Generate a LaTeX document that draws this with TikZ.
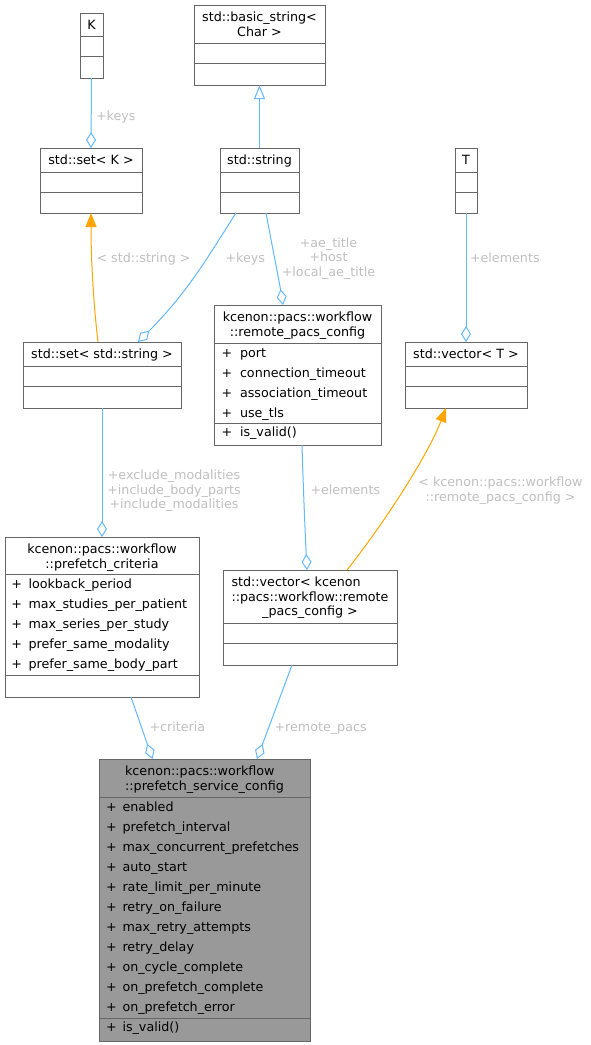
\documentclass[tikz,border=0pt]{standalone}
\usepackage{fontspec}
\setmainfont{DejaVu Sans}
\usetikzlibrary{arrows.meta,fit}
\definecolor{edgeblue}{HTML}{63B8FF}
\definecolor{edgeorange}{HTML}{FFA500}
\definecolor{boxline}{HTML}{666666}
\definecolor{lblgray}{HTML}{C0C0C0}
\definecolor{mainfill}{HTML}{999999}
\newcommand\dfont{\fontsize{12.7pt}{14.5pt}\selectfont}
\begin{document}
\begin{tikzpicture}[x=1pt,y=-1pt,
 cls/.style={draw=boxline, line width=1pt, inner sep=0pt, outer sep=0pt},
 divl/.style={draw=boxline, line width=1pt},
 txt/.style={inner sep=0pt, outer sep=0pt, font=\dfont, text=black},
 lbl/.style={inner sep=0pt, outer sep=0pt, font=\dfont, text=lblgray},
 uses/.style={draw=edgeblue, line width=1pt, -{Diamond[open,length=16pt,width=10pt]}},
 inh/.style={draw=edgeblue, line width=1pt, -{Triangle[open,length=14pt,width=11pt]}},
 tmpl/.style={draw=edgeorange, line width=1pt, -{Triangle[length=14pt,width=11pt]}},
]
\useasboundingbox[fill=white] (0,0) rectangle (591,1045);

% ---------- K
\node[cls, fit={(80,13) (103,78)}] (K) {};
\node[txt, anchor=base] (Kt) at (91.5,29.5) {K};
\draw[divl] (80,36) -- (103,36) (80,56) -- (103,56);

% ---------- std::basic_string<Char>
\node[cls, fit={(194,5) (325,85)}] (bs) {};
\node[txt, anchor=base] (bst1) at (259.5,21.5) {std::basic\_string<};
\node[txt, anchor=base] (bst2) at (259.5,36) {Char >};
\draw[divl] (194,43) -- (325,43) (194,63) -- (325,63);

% ---------- std::set<K>
\node[cls, fit={(40,148) (142,213)}] (setK) {};
\node[txt, anchor=base] (setKt) at (91,164.5) {std::set< K >};
\draw[divl] (40,172) -- (142,172) (40,192) -- (142,192);

% ---------- std::string
\node[cls, fit={(220,148) (299,213)}] (str) {};
\node[txt, anchor=base] (strt) at (259.5,164.5) {std::string};
\draw[divl] (220,172) -- (299,172) (220,192) -- (299,192);

% ---------- T
\node[cls, fit={(455,148) (477,213)}] (T) {};
\node[txt, anchor=base] (Tt) at (466,164.5) {T};
\draw[divl] (455,172) -- (477,172) (455,192) -- (477,192);

% ---------- std::set<std::string>
\node[cls, fit={(23,342) (181,408)}] (setS) {};
\node[txt, anchor=base] (setSt) at (102,358.5) {std::set< std::string >};
\draw[divl] (23,366) -- (181,366) (23,386) -- (181,386);

% ---------- std::vector<T>
\node[cls, fit={(405,342) (527,408)}] (vecT) {};
\node[txt, anchor=base] (vecTt) at (466,358.5) {std::vector< T >};
\draw[divl] (405,366) -- (527,366) (405,386) -- (527,386);

% ---------- remote_pacs_config
\node[cls, fit={(214,305) (381,445)}] (rpc) {};
\node[txt, anchor=base] (rpct1) at (297.5,321.5) {kcenon::pacs::workflow};
\node[txt, anchor=base] (rpct2) at (297.5,336) {::remote\_pacs\_config};
\draw[divl] (214,343) -- (381,343) (214,423) -- (381,423);
\foreach \yy/\nm/\lab in {357/rpcm1/port,377/rpcm2/connection\_timeout,397/rpcm3/association\_timeout,417/rpcm4/use\_tls,436.5/rpcm5/is\_valid()}{
  \node[txt, anchor=base west] (\nm p) at (221.5,\yy) {+};
  \node[txt, anchor=base west] (\nm) at (240,\yy) {\lab};
}

% ---------- prefetch_criteria
\node[cls, fit={(5,537) (199,697)}] (crit) {};
\node[txt, anchor=base] (critt1) at (102,553.5) {kcenon::pacs::workflow};
\node[txt, anchor=base] (critt2) at (102,568) {::prefetch\_criteria};
\draw[divl] (5,574) -- (199,574) (5,675) -- (199,675);
\foreach \yy/\nm/\lab in {588/critm1/lookback\_period,608/critm2/max\_studies\_per\_patient,628/critm3/max\_series\_per\_study,648/critm4/prefer\_same\_modality,668/critm5/prefer\_same\_body\_part}{
  \node[txt, anchor=base west] (\nm p) at (11.5,\yy) {+};
  \node[txt, anchor=base west] (\nm) at (28.5,\yy) {\lab};
}

% ---------- std::vector<remote_pacs_config>
\node[cls, fit={(223,570) (397,665)}] (vecR) {};
\node[txt, anchor=base] (vecRt2) at (310,601) {::pacs::workflow::remote};
\node[txt, anchor=base west] (vecRt1) at ([yshift=14.5pt]vecRt2.base west) {std::vector< kcenon};
\node[txt, anchor=base] (vecRt3) at (310,615.5) {\_pacs\_config >};
\draw[divl] (223,623) -- (397,623) (223,643) -- (397,643);

% ---------- prefetch_service_config (main)
\node[cls, fill=mainfill, fit={(99,759) (310,1041)}] (psc) {};
\node[txt, anchor=base] (psct2) at (204.5,790) {::prefetch\_service\_config};
\node[txt, anchor=base west] (psct1) at ([yshift=14.5pt]psct2.base west) {kcenon::pacs::workflow};
\draw[divl] (99,797) -- (310,797) (99,1018) -- (310,1018);
\foreach \yy/\nm/\lab in {811/pscm1/enabled,831/pscm2/prefetch\_interval,851/pscm3/max\_concurrent\_prefetches,871/pscm4/auto\_start,891/pscm5/rate\_limit\_per\_minute,911/pscm6/retry\_on\_failure,931/pscm7/max\_retry\_attempts,951/pscm8/retry\_delay,971/pscm9/on\_cycle\_complete,991/pscm10/on\_prefetch\_complete,1011/pscm11/on\_prefetch\_error,1031/pscm12/is\_valid()}{
  \node[txt, anchor=base west] (\nm p) at (106,\yy) {+};
  \node[txt, anchor=base west] (\nm) at (122.5,\yy) {\lab};
}

% ---------- connectors
\draw[uses] (K.south) -- (setK.north);
\draw[inh] (str.north) -- (bs.south);
\draw[tmpl] ([xshift=-4pt]setS.north) .. controls (93,300) and (91,255) .. (setK.south);
\draw[uses] ([xshift=-23.5pt]str.south) .. controls (212,250) and (190,290) .. ([xshift=36pt]setS.north);
\draw[uses] ([xshift=6.5pt]str.south) .. controls (271,240) and (279,280) .. ([xshift=-14.5pt]rpc.north);
\draw[uses] (T.south) -- (vecT.north);
\draw[uses] (setS.south) -- (crit.north);
\draw[uses] ([xshift=4.5pt]rpc.south) .. controls (303,480) and (305,530) .. ([xshift=-3pt]vecR.north);
\draw[tmpl] ([xshift=37pt]vecR.north) .. controls (385,522) and (428,455) .. ([xshift=-20pt]vecT.south);
\draw[uses] ([xshift=29pt]crit.south) -- ([xshift=-52pt]psc.north);
\draw[uses] ([xshift=-18pt]vecR.south) -- ([xshift=52.5pt]psc.north);

% ---------- labels
\node[lbl, anchor=base west] (l1) at (96,120) {+keys};
\node[lbl, anchor=base west] (l2) at (96.5,262.5) {< std::string >};
\node[lbl, anchor=base west] (l3) at (225.5,262.5) {+keys};
\node[lbl, anchor=base] (l4a) at (328.5,247) {+ae\_title};
\node[lbl, anchor=base] (l4b) at (328.5,261.5) {+host};
\node[lbl, anchor=base] (l4c) at (328.5,276) {+local\_ae\_title};
\node[lbl, anchor=base west] (l5) at (470,262.5) {+elements};
\node[lbl, anchor=base] (l6a) at (174,479.5) {+exclude\_modalities};
\node[lbl, anchor=base] (l6b) at (174,494) {+include\_body\_parts};
\node[lbl, anchor=base] (l6c) at (174,508.5) {+include\_modalities};
\node[lbl, anchor=base west] (l7) at (310.5,494) {+elements};
\node[lbl, anchor=base] (l8a) at (500.5,486.5) {< kcenon::pacs::workflow};
\node[lbl, anchor=base] (l8b) at (500.5,501) {::remote\_pacs\_config >};
\node[lbl, anchor=base west] (l9) at (149.5,731.5) {+criteria};
\node[lbl, anchor=base west] (l10) at (274.5,731.5) {+remote\_pacs};
\end{tikzpicture}
\end{document}
